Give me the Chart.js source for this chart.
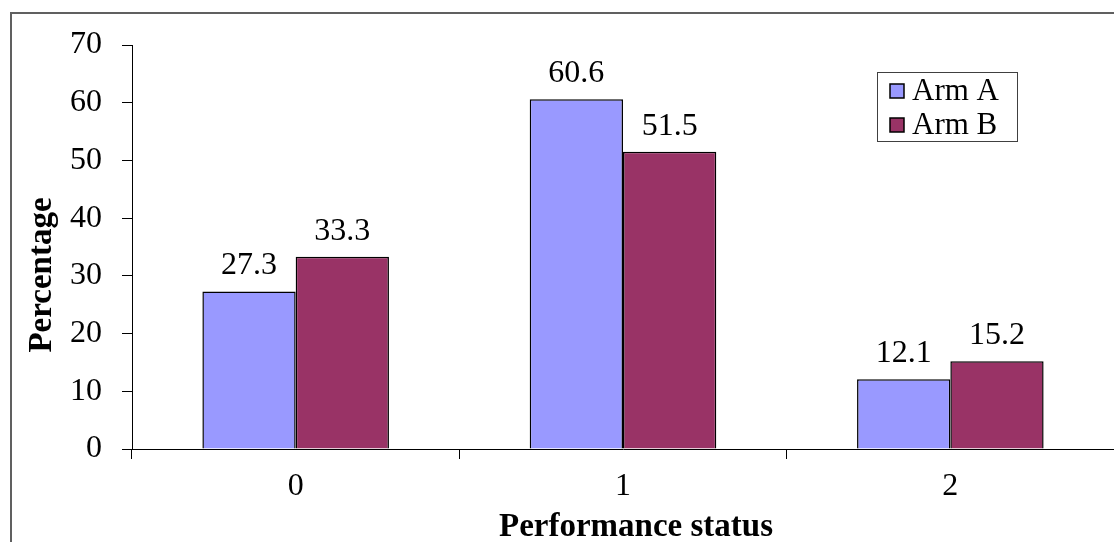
<!DOCTYPE html>
<html>
<head>
<meta charset="utf-8">
<script src="https://cdn.jsdelivr.net/npm/chart.js@4.4.0/dist/chart.umd.min.js"></script>
<style>
  html, body { margin: 0; padding: 0; background: #fff; }
  #wrap { width: 1114px; height: 542px; position: relative; }
</style>
</head>
<body>
<div id="wrap"><canvas id="psChart" width="1114" height="542"></canvas></div>
<script>
const categories = ['0', '1', '2'];
const armA = [27.3, 60.6, 12.1];
const armB = [33.3, 51.5, 15.2];
const seriesNames = ['Arm A', 'Arm B'];
const yTicks = [0, 10, 20, 30, 40, 50, 60, 70];
const xTitle = 'Performance status';
const yTitle = 'Percentage';

const FONT = '"Liberation Serif", "Times New Roman", serif';

// outer frame (only top and left edges are visible in the original)
const framePlugin = {
  id: 'frame',
  beforeDraw(chart) {
    const ctx = chart.ctx;
    ctx.save();
    ctx.fillStyle = '#fff';
    ctx.fillRect(0, 0, chart.width, chart.height);
    ctx.strokeStyle = '#606060';
    ctx.lineWidth = 2;
    ctx.beginPath();
    ctx.moveTo(11, chart.height);
    ctx.lineTo(11, 13);
    ctx.lineTo(chart.width, 13);
    ctx.stroke();
    ctx.restore();
  }
};

// value labels above every bar + axis titles (placed like the original, slightly off-centre)
const valueLabels = {
  id: 'valueLabels',
  afterDatasetsDraw(chart) {
    const ctx = chart.ctx;
    ctx.save();
    ctx.font = '32px ' + FONT;
    ctx.fillStyle = '#000';
    ctx.textAlign = 'center';
    ctx.textBaseline = 'alphabetic';
    chart.data.datasets.forEach((ds, i) => {
      chart.getDatasetMeta(i).data.forEach((bar, j) => {
        ctx.fillText(ds.data[j].toFixed(1), bar.x, bar.y - 17);
      });
    });

    ctx.font = 'bold 33px ' + FONT;
    ctx.textBaseline = 'middle';
    ctx.fillText(xTitle, 636, 527);
    ctx.translate(42, 275);
    ctx.rotate(-Math.PI / 2);
    ctx.fillText(yTitle, 0, 0);
    ctx.restore();
  }
};

// boxed legend in the top right corner
const boxLegend = {
  id: 'boxLegend',
  afterDraw(chart) {
    const ctx = chart.ctx;
    const x = 877, y = 72, w = 140, h = 69;
    ctx.save();
    ctx.strokeStyle = '#404040';
    ctx.lineWidth = 1;
    ctx.strokeRect(x + 0.5, y + 0.5, w, h);
    ctx.font = '31px ' + FONT;
    ctx.textBaseline = 'middle';
    chart.data.datasets.forEach((ds, i) => {
      const cy = y + 19 + i * 34;
      ctx.fillStyle = ds.backgroundColor;
      ctx.fillRect(890, cy - 7, 14, 14);
      ctx.strokeStyle = '#000';
      ctx.lineWidth = 1.5;
      ctx.strokeRect(890, cy - 7, 14, 14);
      ctx.fillStyle = '#000';
      ctx.fillText(ds.label, 912, cy + 1);
    });
    ctx.restore();
  }
};

new Chart(document.getElementById('psChart'), {
  type: 'bar',
  data: {
    labels: categories,
    datasets: [
      { label: seriesNames[0], data: armA, backgroundColor: '#9999FF', borderColor: '#000', borderWidth: 1.5 },
      { label: seriesNames[1], data: armB, backgroundColor: '#993366', borderColor: '#000', borderWidth: 1.5 }
    ]
  },
  options: {
    responsive: false,
    animation: false,
    layout: { padding: { top: 45, left: 20, right: 0, bottom: 0 } },
    datasets: { bar: { categoryPercentage: 0.57, barPercentage: 1.0 } },
    plugins: { legend: { display: false }, tooltip: { enabled: false } },
    scales: {
      x: {
        grid: { offset: true, drawOnChartArea: false, drawTicks: true, tickLength: 10, color: '#000' },
        border: { color: '#000', width: 1 },
        ticks: { color: '#000', font: { family: FONT, size: 32 }, padding: 8 },
        afterFit(scale) { scale.height = 93; }
      },
      y: {
        min: 0, max: 70,
        afterBuildTicks(scale) { scale.ticks = yTicks.map(v => ({ value: v })); },
        grid: { drawOnChartArea: false, drawTicks: true, tickLength: 10, color: '#000' },
        border: { color: '#000', width: 1 },
        ticks: { color: '#000', font: { family: FONT, size: 32 }, padding: 20 },
        afterFit(scale) { scale.width = 112; }
      }
    }
  },
  plugins: [framePlugin, valueLabels, boxLegend]
});
</script>
</body>
</html>
